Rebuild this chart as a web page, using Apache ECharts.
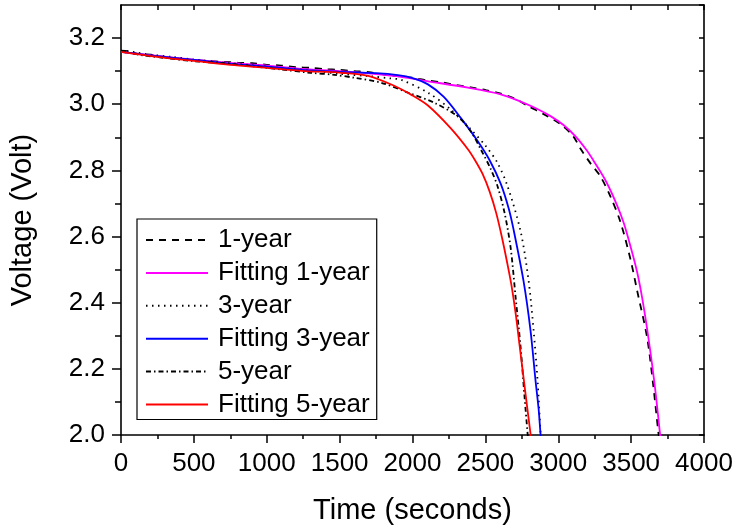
<!DOCTYPE html>
<html>
<head>
<meta charset="utf-8">
<script src="https://cdn.jsdelivr.net/npm/echarts@6/dist/echarts.min.js"></script>
<style>html,body{margin:0;padding:0;background:#fff;}#c{width:737px;height:530px;}</style>
</head>
<body>
<div id="c"></div>
<script>
// [time (s), voltage (V)]
const oneYear = [[0,3.162],[60,3.160],[120,3.152],[200,3.150],[300,3.142],[400,3.138],[500,3.133],[600,3.131],[700,3.128],[800,3.126],[900,3.124],[1000,3.119],[1100,3.117],[1200,3.112],[1300,3.110],[1400,3.106],[1500,3.104],[1600,3.100],[1700,3.097],[1800,3.090],[1900,3.085],[2000,3.080],[2100,3.072],[2200,3.066],[2300,3.058],[2400,3.051],[2500,3.043],[2600,3.033],[2700,3.017],[2800,2.993],[2900,2.970],[3015,2.940],[3100,2.905],[3152,2.866],[3220,2.822],[3289,2.782],[3357,2.722],[3426,2.645],[3494,2.534],[3542,2.435],[3610,2.294],[3651,2.153],[3685,2.015],[3692,1.990]];
const fit1Year = [[0,3.158],[250,3.146],[500,3.135],[750,3.125],[1000,3.117],[1238,3.107],[1500,3.100],[1750,3.091],[1921,3.083],[2100,3.070],[2380,3.050],[2605,3.030],[2742,3.008],[2850,2.987],[2947,2.964],[3036,2.937],[3120,2.902],[3200,2.858],[3241,2.830],[3330,2.765],[3405,2.693],[3450,2.640],[3494,2.573],[3540,2.495],[3576,2.414],[3610,2.320],[3644,2.213],[3670,2.120],[3699,2.000],[3702,1.990]];
const threeYear = [[0,3.162],[80,3.158],[200,3.150],[350,3.143],[500,3.135],[700,3.126],[900,3.118],[1100,3.110],[1300,3.102],[1500,3.092],[1700,3.085],[1850,3.078],[1921,3.074],[2106,3.035],[2263,2.984],[2400,2.924],[2500,2.875],[2580,2.825],[2650,2.755],[2742,2.615],[2797,2.465],[2831,2.315],[2858,2.165],[2879,2.003],[2882,1.990]];
const fit3Year = [[0,3.158],[250,3.145],[500,3.134],[750,3.122],[1000,3.114],[1238,3.104],[1500,3.098],[1750,3.094],[1900,3.088],[2000,3.079],[2106,3.060],[2215,3.022],[2332,2.958],[2448,2.888],[2530,2.830],[2605,2.760],[2660,2.685],[2694,2.620],[2762,2.465],[2810,2.315],[2844,2.165],[2865,2.080],[2879,2.000],[2882,1.990]];
const fiveYear = [[0,3.160],[60,3.155],[150,3.148],[300,3.140],[500,3.130],[700,3.124],[900,3.115],[1100,3.105],[1300,3.095],[1463,3.089],[1600,3.080],[1785,3.065],[1969,3.035],[2147,3.005],[2311,2.963],[2400,2.918],[2468,2.864],[2537,2.804],[2585,2.750],[2633,2.669],[2674,2.564],[2708,2.414],[2742,2.264],[2769,2.114],[2790,2.003],[2793,1.990]];
const fit5Year = [[0,3.158],[250,3.143],[500,3.131],[750,3.119],[1000,3.110],[1238,3.101],[1511,3.095],[1696,3.086],[1874,3.056],[1990,3.029],[2106,2.996],[2263,2.927],[2380,2.864],[2430,2.830],[2480,2.790],[2530,2.735],[2575,2.670],[2615,2.595],[2650,2.520],[2680,2.450],[2710,2.360],[2735,2.270],[2760,2.180],[2785,2.090],[2810,2.003],[2812,1.990]];

const majorY = [2.0,2.2,2.4,2.6,2.8,3.0,3.2];
const minorY = [2.1,2.3,2.5,2.7,2.9,3.1];

const FONT = "'Liberation Sans', Arial, sans-serif";
const chart = echarts.init(document.getElementById('c'), null, {renderer:'canvas'});
const lineAxis = {show:true, lineStyle:{color:'#000', width:1.6}};
function ser(name, data, color, type) {
  return {name, type:'line', data, showSymbol:false, symbol:'none',
    smooth:0.3,
    lineStyle:{color, width:1.8, type}, itemStyle:{color}, z:2, animation:false};
}
chart.setOption({
  animation:false,
  backgroundColor:'#fff',
  grid:{left:119, right:33, top:5, bottom:92, containLabel:false},
  xAxis:[
    {type:'value', position:'bottom', min:0, max:4000, interval:500,
     axisLine:lineAxis, splitLine:{show:false},
     axisTick:{show:true, inside:false, length:8, lineStyle:{color:'#000', width:1.5}},
     minorTick:{show:true, splitNumber:2, length:4, lineStyle:{color:'#000', width:1.5}},
     axisLabel:{color:'#000', fontSize:26, fontFamily:FONT, margin:16, formatter:v=>String(v)},
     name:'Time (seconds)', nameLocation:'middle', nameGap:61,
     nameTextStyle:{color:'#000', fontSize:29, fontFamily:FONT}},
    {type:'value', position:'top', min:0, max:4000, interval:250,
     axisLine:lineAxis, splitLine:{show:false},
     axisTick:{show:true, inside:true, length:5, lineStyle:{color:'#000', width:1.5}},
     axisLabel:{show:false}}
  ],
  yAxis:[
    {type:'value', position:'left', min:2.0, max:3.3, interval:0.1,
     axisLine:lineAxis, splitLine:{show:false},
     axisTick:{show:true, inside:false, length:9, customValues:majorY, lineStyle:{color:'#000', width:1.5}},
     axisLabel:{color:'#000', fontSize:26, fontFamily:FONT, margin:16, customValues:majorY,
       formatter:v=>v.toFixed(1)},
     name:'Voltage (Volt)', nameLocation:'middle', nameGap:84,
     nameTextStyle:{color:'#000', fontSize:29, fontFamily:FONT}},
    {type:'value', position:'left', min:2.0, max:3.3, interval:0.1,
     axisLine:{show:false}, splitLine:{show:false},
     axisTick:{show:true, inside:false, length:6, customValues:minorY, lineStyle:{color:'#000', width:1.5}},
     axisLabel:{show:false}},
    {type:'value', position:'right', min:2.0, max:3.3, interval:0.1,
     axisLine:lineAxis, splitLine:{show:false},
     axisTick:{show:true, inside:true, length:5, lineStyle:{color:'#000', width:1.5}},
     axisLabel:{show:false}}
  ],
  legend:{
    orient:'vertical', left:137, top:219,
    padding:[8,7,2,8], itemGap:6.9, itemWidth:62, itemHeight:14,
    borderColor:'#000', borderWidth:1.2, backgroundColor:'#fff',
    itemStyle:{opacity:0},
    textStyle:{color:'#000', fontSize:26, fontFamily:FONT, padding:[0,0,0,5]},
    data:['1-year','Fitting 1-year','3-year','Fitting 3-year','5-year','Fitting 5-year']
  },
  series:[
    ser('1-year', oneYear, '#000', [7,6]),
    ser('Fitting 1-year', fit1Year, '#ff00ff', 'solid'),
    ser('3-year', threeYear, '#000', [1.5,4.5]),
    ser('Fitting 3-year', fit3Year, '#0000ff', 'solid'),
    ser('5-year', fiveYear, '#000', [5,3,1.5,3]),
    ser('Fitting 5-year', fit5Year, '#ff0000', 'solid')
  ]
});
</script>
</body>
</html>
